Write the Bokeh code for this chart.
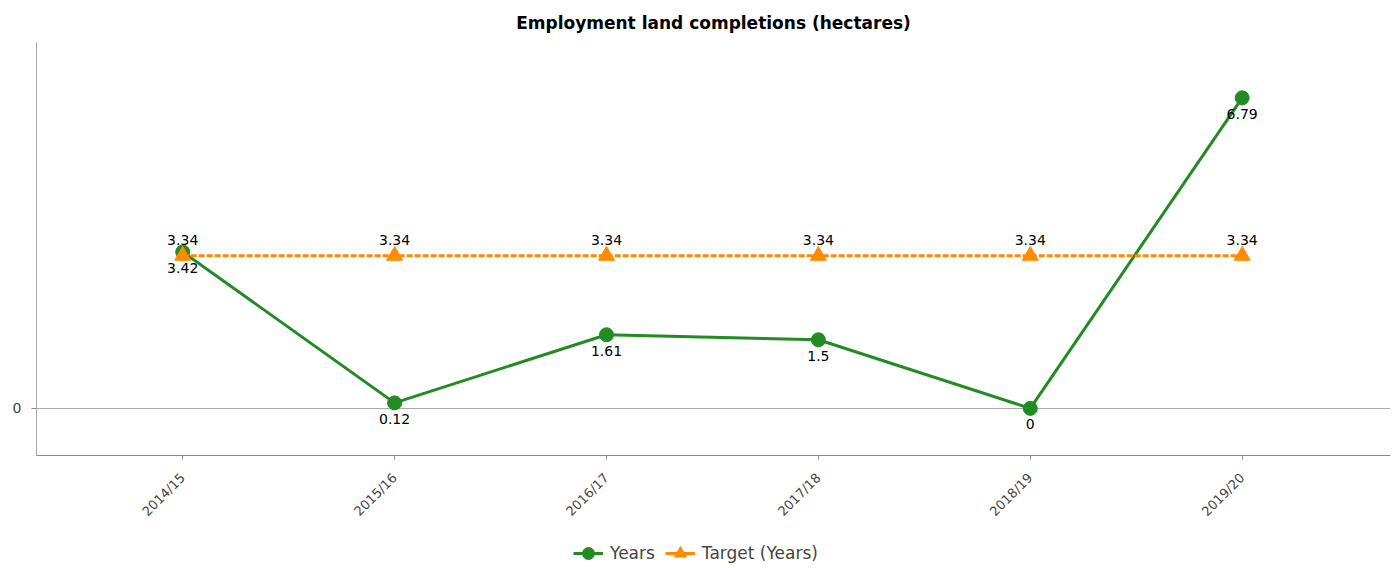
import math
from bokeh.plotting import figure
from bokeh.layouts import column
from bokeh.models import ColumnDataSource, FixedTicker, Legend, LegendItem, Range1d
from bokeh.core.properties import value
from bokeh.embed import file_html
from bokeh.resources import INLINE

categories = ["2014/15", "2015/16", "2016/17", "2017/18", "2018/19", "2019/20"]
years = [3.42, 0.12, 1.61, 1.5, 0, 6.79]
target = [3.34, 3.34, 3.34, 3.34, 3.34, 3.34]
year_labels = ["3.42", "0.12", "1.61", "1.5", "0", "6.79"]
target_labels = ["3.34", "3.34", "3.34", "3.34", "3.34", "3.34"]
series_names = ["Years", "Target (Years)"]

xs = list(range(len(categories)))
src = ColumnDataSource(dict(x=xs, years=years, target=target,
                            ylab=year_labels, tlab=target_labels))

FONT = "DejaVu Sans"
GREEN = "#228B22"
ORANGE = "#FF8C00"

p = figure(width=1399, height=530, output_backend="svg", toolbar_location=None,
           x_range=Range1d(-0.69, 5.7), y_range=Range1d(-1.03, 8.0),
           min_border_left=36, min_border_right=9, min_border_top=42, min_border_bottom=75,
           title="Employment land completions (hectares)")
p.title.align = "center"
p.title.text_font = FONT
p.title.text_font_size = "17px"
p.title.text_font_style = "bold"
p.title.text_color = "#000000"
p.title.standoff = 20
p.outline_line_color = None
p.background_fill_color = "white"
p.border_fill_color = "white"

# axes
p.xaxis.ticker = FixedTicker(ticks=xs)
p.xaxis.major_label_overrides = {i: c for i, c in enumerate(categories)}
p.xaxis.major_label_orientation = math.pi / 4
p.xaxis.major_label_text_font = FONT
p.xaxis.major_label_text_font_size = "13px"
p.xaxis.major_label_text_color = "#444444"
p.xaxis.major_label_standoff = 16
p.xaxis.axis_line_color = "#888888"
p.xaxis.major_tick_line_color = "#888888"
p.xaxis.major_tick_in = 0
p.xaxis.major_tick_out = 4
p.xaxis.minor_tick_line_color = None

p.yaxis.ticker = FixedTicker(ticks=[0])
p.yaxis.major_label_text_font = FONT
p.yaxis.major_label_text_font_size = "14px"
p.yaxis.major_label_text_color = "#444444"
p.yaxis.major_label_standoff = 10
p.yaxis.axis_line_color = "#aaaaaa"
p.yaxis.major_tick_line_color = "#888888"
p.yaxis.major_tick_in = 0
p.yaxis.major_tick_out = 5
p.yaxis.minor_tick_line_color = None

p.xgrid.grid_line_color = None
p.ygrid.ticker = FixedTicker(ticks=[0])
p.ygrid.grid_line_color = "#aaaaaa"
p.ygrid.grid_line_width = 1

# series
p.line("x", "years", source=src, line_color=GREEN, line_width=3)
p.scatter("x", "years", source=src, marker="circle", size=14,
          fill_color=GREEN, line_color=GREEN)
p.line("x", "target", source=src, line_color=ORANGE, line_width=3, line_dash="6 2")
p.scatter("x", "target", source=src, marker="triangle", size=16,
          fill_color=ORANGE, line_color=ORANGE)

p.text("x", "years", text="ylab", source=src, y_offset=16,
       text_align="center", text_baseline="middle",
       text_font=value(FONT), text_font_size="14px", text_color="#000000")
p.text("x", "target", text="tlab", source=src, y_offset=-16,
       text_align="center", text_baseline="middle",
       text_font=value(FONT), text_font_size="14px", text_color="#000000")

# legend strip below the chart (its ranges keep the series out of view,
# so only the legend itself is visible)
lg = figure(width=1399, height=38, output_backend="svg", toolbar_location=None,
            x_range=Range1d(-30, -29), y_range=Range1d(-30, -29),
            min_border=0, outline_line_color=None)
lg.axis.visible = False
lg.grid.visible = False
gl1 = lg.line("x", "years", source=src, line_color=GREEN, line_width=3)
gs1 = lg.scatter("x", "years", source=src, marker="circle", size=13,
                 fill_color=GREEN, line_color=GREEN)
gl2 = lg.line("x", "target", source=src, line_color=ORANGE, line_width=3)
gs2 = lg.scatter("x", "target", source=src, marker="triangle", size=14,
                 fill_color=ORANGE, line_color=ORANGE)
legend = Legend(items=[LegendItem(label=series_names[0], renderers=[gl1, gs1]),
                       LegendItem(label=series_names[1], renderers=[gl2, gs2])],
                orientation="horizontal", location=(537, 0),
                label_text_font=FONT, label_text_font_size="17px",
                label_text_color="#444444", border_line_color=None,
                background_fill_alpha=0, glyph_width=30, glyph_height=30,
                spacing=10, padding=2, label_standoff=7, margin=0)
lg.add_layout(legend, "center")

layout = column(p, lg, spacing=0)
open("out.html", "w").write(file_html(layout, INLINE))
